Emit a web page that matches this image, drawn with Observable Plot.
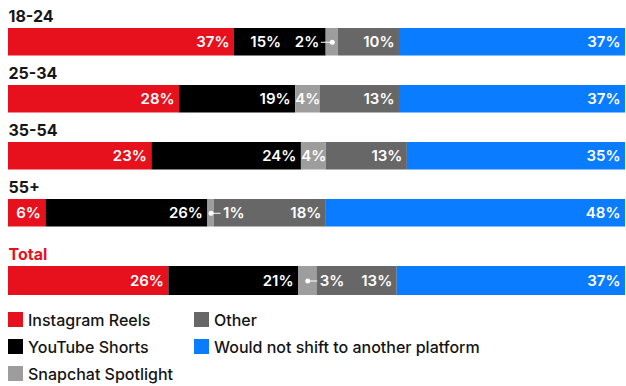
<!DOCTYPE html>
<html><head><meta charset="utf-8">
<script src="https://cdn.jsdelivr.net/npm/d3@7"></script>
<script src="https://cdn.jsdelivr.net/npm/@observablehq/plot@0.6"></script>
<style>
body{margin:0;background:#fff;font-family:Inter,"Noto Sans",sans-serif;}
#chart{width:626px;}
#chart svg{display:block;}
.legend{display:grid;grid-template-columns:186px auto;grid-template-rows:repeat(3,27px);grid-auto-flow:column;padding-left:8px;margin-top:10px;}
.item{display:flex;align-items:center;font-size:16px;font-weight:500;color:#141414;white-space:nowrap;}
.sw{width:15px;height:15px;margin-right:5px;flex:none;}
</style></head><body><div id="chart"></div>
<script>
const groups = ["18-24", "25-34", "35-54", "55+", "Total"];
const platforms = ["Instagram Reels", "YouTube Shorts", "Snapchat Spotlight", "Other", "Would not shift to another platform"];
const colors = ["#e6111d", "#000000", "#9d9d9d", "#676767", "#0a7cff"];
const instagramReels = [37, 28, 23, 6, 26];
const youtubeShorts = [15, 19, 24, 26, 21];
const snapchatSpotlight = [2, 4, 4, 1, 3];
const other = [10, 13, 13, 18, 13];
const wouldNotShift = [37, 37, 35, 48, 37];
const series = [instagramReels, youtubeShorts, snapchatSpotlight, other, wouldNotShift];
const calloutLeftGroups = ["18-24"];

const RED = colors[0];
const rows = [];
groups.forEach((g, i) => {
  const total = d3.sum(series, s => s[i]);
  let cum = 0;
  platforms.forEach((p, j) => {
    const v = series[j][i];
    const next = j < platforms.length - 1 ? series[j + 1][i] : null;
    rows.push({group: g, platform: p, value: v, x1: cum / total, x2: (cum + v) / total, mid: (cum + v / 2) / total,
      yieldLeft: next !== null && next < 4 && calloutLeftGroups.includes(g)});
    cum += v;
  });
});

const W = 626, ML = 8, MR = 1;
const innerW = W - ML - MR;
const px = n => n / innerW;

function makePlot(groupList, height, insetTop, insetBottom, labelDy) {
  const data = rows.filter(d => groupList.includes(d.group));
  const barDy = (insetTop - insetBottom) / 2;
  const endLabels = data.filter(d => d.value >= 6 && !d.yieldLeft);
  const shiftedLabels = data.filter(d => d.value >= 6 && d.yieldLeft);
  const midLabels = data.filter(d => d.value >= 4 && d.value < 6);
  const callouts = data.filter(d => d.value < 4);
  const cl = callouts.filter(d => calloutLeftGroups.includes(d.group));
  const cr = callouts.filter(d => !calloutLeftGroups.includes(d.group));
  const txt = {fill: "white", fontWeight: 600, fontSize: 15, dy: barDy, y: "group", text: d => d.value + "%"};
  return Plot.plot({
    width: W, height,
    marginLeft: ML, marginRight: MR, marginTop: 0, marginBottom: 0,
    style: {fontFamily: "Inter, sans-serif", background: "#fff"},
    x: {domain: [0, 1], axis: null},
    y: {type: "band", domain: groupList, padding: 0, axis: null},
    color: {domain: platforms, range: colors},
    marks: [
      Plot.barX(data, {y: "group", x1: "x1", x2: "x2", fill: "platform", insetTop, insetBottom}),
      Plot.text(groupList, {y: d => d, text: d => d, frameAnchor: "left", textAnchor: "start", dy: labelDy,
        fill: d => d === "Total" ? RED : "#161616", fontWeight: 700, fontSize: 16}),
      Plot.text(endLabels, {...txt, x: "x2", textAnchor: "end", dx: -5}),
      Plot.text(shiftedLabels, {...txt, x: "x2", textAnchor: "end", dx: -45}),
      Plot.text(midLabels, {...txt, x: "mid", textAnchor: "middle"}),
      Plot.ruleY(callouts, {y: "group", x1: "mid",
        x2: d => d.mid + (calloutLeftGroups.includes(d.group) ? -px(11) : px(10)), dy: barDy, stroke: "white", strokeWidth: 1}),
      Plot.dot(callouts, {y: "group", x: "mid", r: 2.5, fill: "white", stroke: null, dy: barDy}),
      Plot.text(cl, {...txt, x: "mid", textAnchor: "end", dx: -13}),
      Plot.text(cr, {...txt, x: "mid", textAnchor: "start", dx: 12})
    ]
  });
}

const chart = document.getElementById("chart");
chart.append(makePlot(groups.slice(0, 4), 230, 27, 2.5, -13));
chart.append(makePlot(["Total"], 66, 36, 1, -8.5));

const legend = document.createElement("div");
legend.className = "legend";
platforms.forEach((p, i) => {
  const it = document.createElement("div");
  it.className = "item";
  const sw = document.createElement("span");
  sw.className = "sw";
  sw.style.background = colors[i];
  it.append(sw, document.createTextNode(p));
  legend.append(it);
});
chart.append(legend);
</script></body></html>
